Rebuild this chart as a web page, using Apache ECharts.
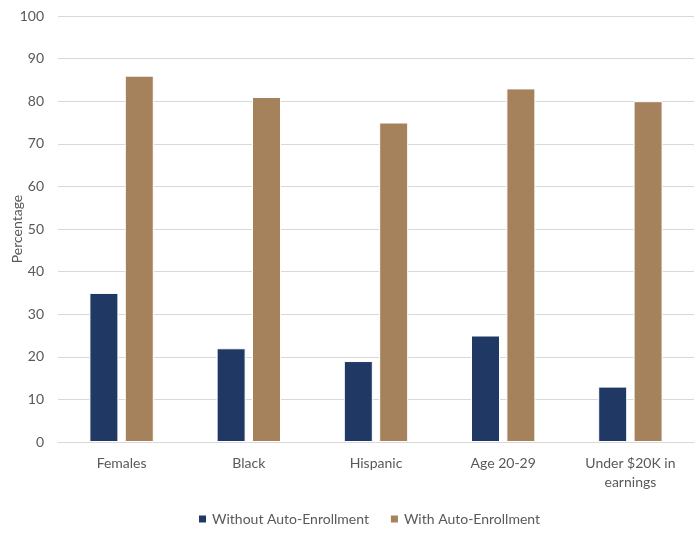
<!DOCTYPE html>
<html>
<head>
<meta charset="utf-8">
<script src="https://cdn.jsdelivr.net/npm/echarts@6/dist/echarts.min.js"></script>
<style>
  html, body { margin: 0; padding: 0; background: #fff; }
  #chart { width: 700px; height: 547px; }
</style>
</head>
<body>
<div id="chart"></div>
<script>
var categories = ['Females', 'Black', 'Hispanic', 'Age 20-29', 'Under $20K in\nearnings'];
var withoutAuto = [35, 22, 19, 25, 13];
var withAuto = [86, 81, 75, 83, 80];
var yTicks = [0, 10, 20, 30, 40, 50, 60, 70, 80, 90, 100];

var myChart = echarts.init(document.getElementById('chart'));
var textColor = '#595959';
var option = {
    animation: false,
    textStyle: { fontFamily: 'Lato' },
    grid: { left: 58, right: 6, top: 16, bottom: 105, containLabel: false, outerBoundsMode: 'none' },
    legend: {
        bottom: 16,
        left: 192,
        itemWidth: 9,
        itemHeight: 9,
        itemGap: 20,
        icon: 'rect',
        textStyle: { color: textColor, fontSize: 14, fontFamily: 'Lato' },
        data: ['Without Auto-Enrollment', 'With Auto-Enrollment']
    },
    xAxis: {
        type: 'category',
        data: categories,
        axisTick: { show: false },
        axisLine: { lineStyle: { color: '#d9d9d9' } },
        axisLabel: { color: textColor, fontSize: 14, margin: 12, lineHeight: 19 }
    },
    yAxis: {
        type: 'value',
        min: yTicks[0],
        max: yTicks[yTicks.length - 1],
        interval: 10,
        name: 'Percentage',
        nameLocation: 'middle',
        nameGap: 34,
        nameMoveOverlap: false,
        nameTextStyle: { color: textColor, fontSize: 14 },
        axisLine: { show: false },
        axisTick: { show: false },
        axisLabel: { color: textColor, fontSize: 14, margin: 14 },
        splitLine: { lineStyle: { color: '#d9d9d9' } }
    },
    series: [
        {
            name: 'Without Auto-Enrollment',
            type: 'bar',
            data: withoutAuto,
            barWidth: 29,
            barGap: '22%',
            itemStyle: { color: '#203864', borderColor: '#fff', borderWidth: 1 }
        },
        {
            name: 'With Auto-Enrollment',
            type: 'bar',
            data: withAuto,
            barWidth: 29,
            itemStyle: { color: '#a5825b', borderColor: '#fff', borderWidth: 1 }
        }
    ]
};
myChart.setOption(option);
</script>
</body>
</html>
